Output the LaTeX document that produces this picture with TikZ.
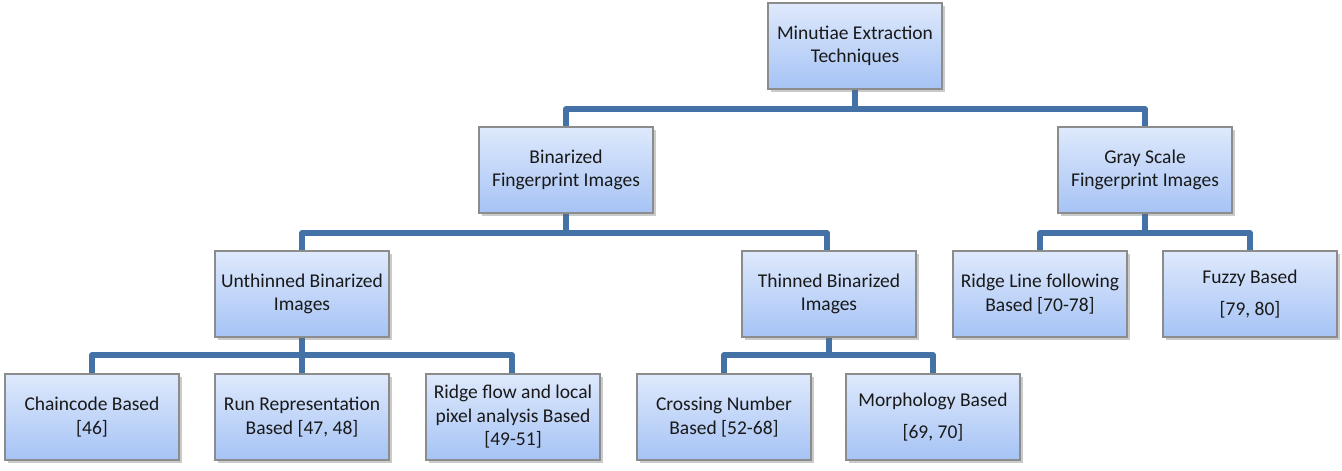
\documentclass[tikz,border=0pt]{standalone}
\usepackage{fontspec}
\setmainfont{Carlito}
\usetikzlibrary{shadows}
\definecolor{connc}{RGB}{68,114,166}
\definecolor{boxtop}{RGB}{222,233,252}
\definecolor{boxbot}{RGB}{166,195,245}
\definecolor{boxline}{RGB}{140,140,140}
\definecolor{txt}{RGB}{25,25,25}
\tikzset{
  tbox/.style={rectangle, draw=boxline, line width=1.3pt, top color=boxtop, bottom color=boxbot,
    minimum width=174pt, minimum height=86pt, inner sep=0pt, align=center, text=txt,
    font=\fontsize{19.5}{23.5}\selectfont,
    drop shadow={shadow xshift=2.5pt, shadow yshift=-3pt, opacity=0.35, fill=black!60}},
  conn/.style={draw=connc, line width=5.5pt, line join=round}
}
\begin{document}
\begin{tikzpicture}[x=1pt,y=1pt]
\useasboundingbox (0,0) rectangle (1342,471);
\coordinate (l1) at (0,362);
\coordinate (l2) at (0,238);
\coordinate (l3) at (0,116);
% connectors
\coordinate (rootc) at (855,382);
\coordinate (binn) at (566,344);
\coordinate (grayn) at (1145,344);
\draw[conn] (rootc) -- (rootc |- l1);
\draw[conn] (binn) -- (binn |- l1) -| (grayn);
\coordinate (bins) at (566,258);
\coordinate (unthn) at (302,220);
\coordinate (thinn) at (827,220);
\draw[conn] (bins) -- (bins |- l2);
\draw[conn] (unthn) -- (unthn |- l2) -| (thinn);
\coordinate (grays) at (1145,258);
\coordinate (rlinen) at (1040,220);
\coordinate (fuzzyn) at (1250,220);
\draw[conn] (grays) -- (grays |- l2);
\draw[conn] (rlinen) -- (rlinen |- l2) -| (fuzzyn);
\coordinate (unths) at (302,134);
\coordinate (chainn) at (92,97);
\coordinate (rflown) at (512,97);
\draw[conn] (unths) -- (unths |- l3);
\draw[conn] (chainn) -- (chainn |- l3) -| (rflown);
\coordinate (runn) at (302,97);
\draw[conn] (runn) -- (runn |- l3);
\coordinate (thins) at (829,134);
\coordinate (crossn) at (724,97);
\coordinate (morphn) at (933,97);
\draw[conn] (thins) -- (thins |- l3);
\draw[conn] (crossn) -- (crossn |- l3) -| (morphn);
% boxes
\node[tbox] (root) at (855,425) {Minutiae Extraction\\Techniques};
\node[tbox] (bin) at (566,301) {Binarized\\Fingerprint Images};
\node[tbox] (gray) at (1145,301) {Gray Scale\\Fingerprint Images};
\node[tbox] (unth) at (302,177) {Unthinned Binarized\\Images};
\node[tbox] (thin) at (829,177) {Thinned Binarized\\Images};
\node[tbox] (rline) at (1040,177) {Ridge Line following\\Based [70-78]};
\node[tbox] (fuzzy) at (1250,177) {Fuzzy Based\\[8pt]{}[79, 80]};
\node[tbox] (chain) at (92,54) {Chaincode Based\\{}[46]};
\node[tbox] (run) at (302,54) {Run Representation\\Based [47, 48]};
\node[tbox] (rflow) at (513,54) {Ridge flow and local\\pixel analysis Based\\{}[49-51]};
\node[tbox] (cross) at (724,54) {Crossing Number\\Based [52-68]};
\node[tbox] (morph) at (933,54) {Morphology Based\\[8pt]{}[69, 70]};
\end{tikzpicture}
\end{document}
